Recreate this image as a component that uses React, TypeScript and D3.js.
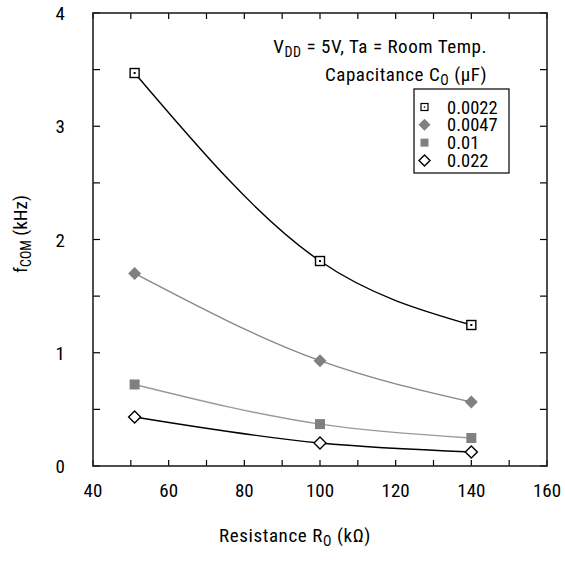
import React from "react";
import * as d3 from "d3";

const resistance = [51, 100, 140];
const seriesNames = ["0.0022", "0.0047", "0.01", "0.022"];
const s0022 = [3.47, 1.81, 1.245];
const s0047 = [1.70, 0.93, 0.565];
const s001 = [0.72, 0.37, 0.247];
const s0022b = [0.433, 0.203, 0.124];
const xTicks = [40, 60, 80, 100, 120, 140, 160];
const yTicks = [0, 1, 2, 3, 4];

const FONT = "'Liberation Sans Narrow', 'Roboto Condensed', 'Liberation Sans', Arial, sans-serif";

const W = 565, H = 563;
const L = 93, R = 547, T = 13, B = 466;

export default function App() {
  const x = d3.scaleLinear().domain([40, 160]).range([L, R]);
  const y = d3.scaleLinear().domain([0, 4]).range([B, T]);
  const line = d3.line<number>().x((_, i) => x(resistance[i])).y((d) => y(d)).curve(d3.curveMonotoneX);
  const data = [s0022, s0047, s001, s0022b];
  const lineColors = ["#000", "#888", "#999", "#000"];

  const minorX = d3.range(40, 161, 10);
  const minorY = d3.range(0, 4.01, 0.5);

  const marker = (k: number, cx: number, cy: number, key: string) => {
    if (k === 0)
      return (
        <g key={key}>
          <rect x={cx - 4.5} y={cy - 4.5} width={9} height={9} fill="#fff" stroke="#000" strokeWidth={1.4} />
          <rect x={cx - 1} y={cy - 1} width={2} height={2} fill="#000" />
        </g>
      );
    if (k === 1)
      return <path key={key} d={`M${cx},${cy - 6.5}L${cx + 6.5},${cy}L${cx},${cy + 6.5}L${cx - 6.5},${cy}Z`} fill="#808080" />;
    if (k === 2) return <rect key={key} x={cx - 5} y={cy - 5} width={10} height={10} fill="#808080" />;
    return (
      <path key={key} d={`M${cx},${cy - 6}L${cx + 6},${cy}L${cx},${cy + 6}L${cx - 6},${cy}Z`} fill="#fff" stroke="#000" strokeWidth={1.4} />
    );
  };

  return (
    <svg width={W} height={H} style={{ position: "absolute", left: 0, top: 0 }} fontFamily={FONT}>
      <rect width={W} height={H} fill="#fff" />
      {minorX.map((v) => (
        <g key={"xt" + v}>
          <line x1={x(v)} x2={x(v)} y1={B} y2={B - 6} stroke="#000" strokeWidth={1.2} />
          <line x1={x(v)} x2={x(v)} y1={T} y2={T + 6} stroke="#000" strokeWidth={1.2} />
        </g>
      ))}
      {minorY.map((v) => (
        <g key={"yt" + v}>
          <line x1={L} x2={L + 7} y1={y(v)} y2={y(v)} stroke="#000" strokeWidth={1.2} />
          <line x1={R} x2={R - 7} y1={y(v)} y2={y(v)} stroke="#000" strokeWidth={1.2} />
        </g>
      ))}
      <rect x={L} y={T} width={R - L} height={B - T} fill="none" stroke="#222" strokeWidth={1.6} />
      {xTicks.map((v) => (
        <text key={"xl" + v} x={x(v)} y={497} fontSize={19} textAnchor="middle">{v}</text>
      ))}
      {yTicks.map((v) => (
        <text key={"yl" + v} x={65} y={y(v) + 7} fontSize={19} textAnchor="end">{v}</text>
      ))}
      <text x={295} y={542} fontSize={19} textAnchor="middle" letterSpacing={0.6}>
        Resistance R<tspan fontSize={14} dy={4}>O</tspan><tspan dy={-4}> (kΩ)</tspan>
      </text>
      <text transform={`translate(27,234) rotate(-90)`} fontSize={19} textAnchor="middle">
        f<tspan fontSize={14} dy={4}>COM</tspan><tspan dy={-4}> (kHz)</tspan>
      </text>
      {data.map((d, k) => (
        <path key={"l" + k} d={line(d) || ""} fill="none" stroke={lineColors[k]} strokeWidth={1.4} />
      ))}
      {data.map((d, k) => d.map((v, i) => marker(k, x(resistance[i]), y(v), `m${k}-${i}`)))}
      <text x={487} y={53} fontSize={19} textAnchor="end" letterSpacing={0.55}>
        V<tspan fontSize={14} dy={4}>DD</tspan><tspan dy={-4}> = 5V, Ta = Room Temp.</tspan>
      </text>
      <text x={487} y={81} fontSize={19} textAnchor="end" letterSpacing={0.55}>
        Capacitance C<tspan fontSize={14} dy={4}>O</tspan><tspan dy={-4}> (μF)</tspan>
      </text>
      <rect x={414} y={89} width={95} height={84} fill="#fff" stroke="#000" strokeWidth={1.2} />
      {seriesNames.map((n, k) => {
        const cy = 107 + k * 17.8;
        return (
          <g key={"lg" + k}>
            {k === 0 ? (
              <g>
                <rect x={421} y={cy - 3.5} width={7} height={7} fill="#fff" stroke="#000" strokeWidth={1.2} />
                <rect x={423.8} y={cy - 0.7} width={1.4} height={1.4} fill="#000" />
              </g>
            ) : k === 1 ? (
              <path d={`M424.5,${cy - 6}L430.5,${cy}L424.5,${cy + 6}L418.5,${cy}Z`} fill="#808080" />
            ) : k === 2 ? (
              <rect x={420.5} y={cy - 4} width={8} height={8} fill="#808080" />
            ) : (
              <path d={`M424.5,${cy - 5.5}L430,${cy}L424.5,${cy + 5.5}L419,${cy}Z`} fill="#fff" stroke="#000" strokeWidth={1.4} />
            )}
            <text x={447} y={cy + 6.5} fontSize={18.5}>{n}</text>
          </g>
        );
      })}
    </svg>
  );
}
